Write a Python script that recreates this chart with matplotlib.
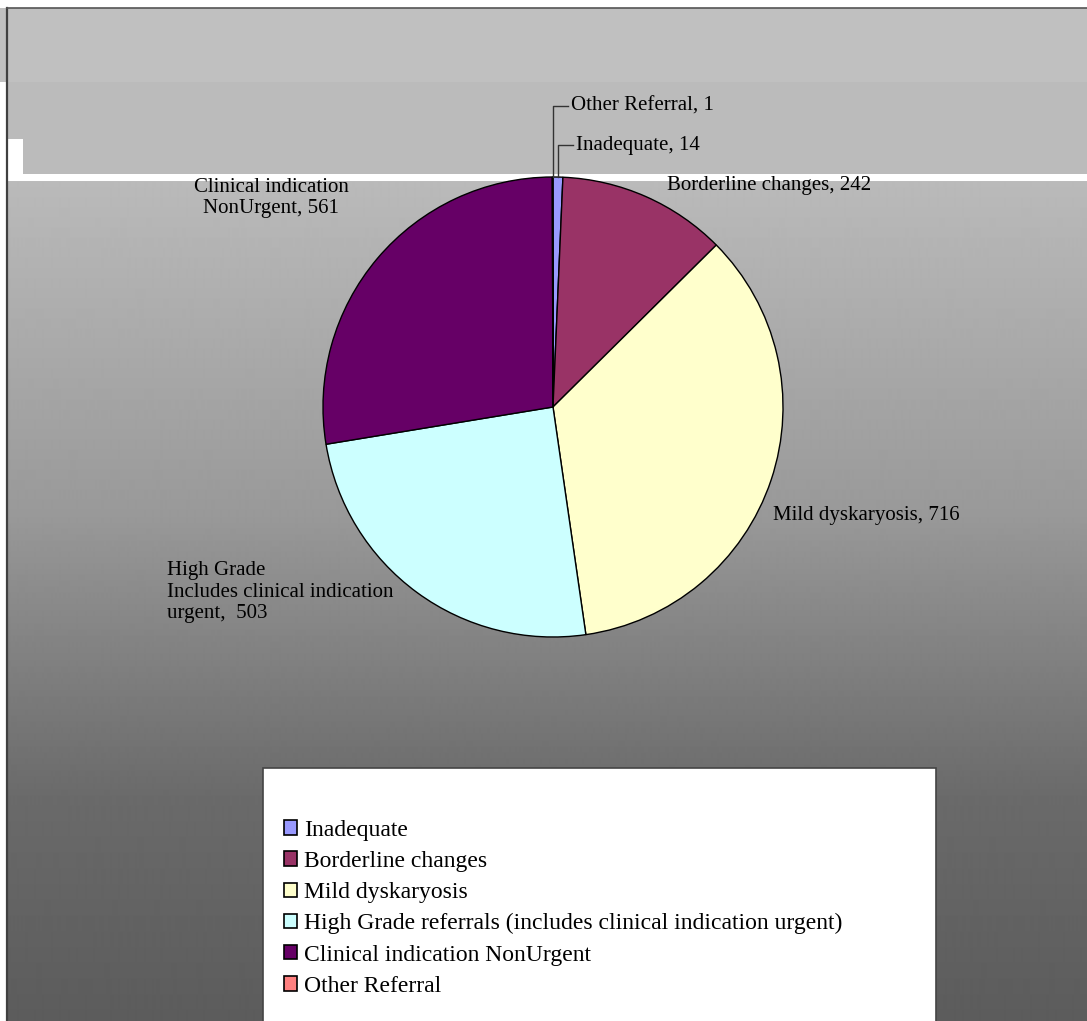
import numpy as np
import matplotlib.pyplot as plt
from matplotlib.patches import Rectangle, Patch

categories = ['Inadequate', 'Borderline changes', 'Mild dyskaryosis',
              'High Grade referrals (includes clinical indication urgent)',
              'Clinical indication NonUrgent', 'Other Referral']
values = [14, 242, 716, 503, 561, 1]
slice_names = ['Inadequate', 'Borderline changes', 'Mild dyskaryosis',
               'High Grade\nIncludes clinical indication\nurgent, ',
               'Clinical indication\nNonUrgent', 'Other Referral']
colors = ['#9999ff', '#993366', '#ffffcc', '#ccffff', '#660066', '#ff8080']

W, H = 1087, 1021
plt.rcParams['font.family'] = ['Liberation Serif', 'DejaVu Serif']
fig = plt.figure(figsize=(W / 100, H / 100), dpi=100)

# background panel drawn in pixel coordinates
bg = fig.add_axes([0, 0, 1, 1])
bg.set_xlim(0, W)
bg.set_ylim(H, 0)
bg.axis('off')

gy = np.arange(181, H + 1)
shade = np.interp(gy, [181, 515, 590, 800, H], [186, 153, 140, 106, 92]) / 255.0
grad = np.repeat(shade[:, None], 2, axis=1)
bg.imshow(grad, cmap='gray', vmin=0, vmax=1, extent=[7, W, H, 181],
          aspect='auto', interpolation='bilinear', zorder=1)
bg.add_patch(Rectangle((0, 8), W, 74, color='#c0c0c0', lw=0, zorder=1))
bg.add_patch(Rectangle((7, 82), W - 7, 100, color='#bbbbbb', lw=0, zorder=1))
bg.add_patch(Rectangle((7, 139), 16, 42, color='white', lw=0, zorder=2))
bg.add_patch(Rectangle((7, 174), W - 7, 7, color='white', lw=0, zorder=2))
bg.plot([7, 7], [8, H], color='#404040', lw=1.6, zorder=3)
bg.plot([7, W], [8.5, 8.5], color='#555555', lw=1.2, zorder=3)

# legend box
bg.add_patch(Rectangle((263, 768), 673, H - 768 + 5, facecolor='white',
                       edgecolor='#444444', lw=1.2, zorder=3))

# pie, centre and radius in pixels
cx, cy, r = 553, 407, 230
ax = fig.add_axes([(cx - r) / W, 1 - (cy + r) / H, 2 * r / W, 2 * r / H])
wedges, _ = ax.pie(values, colors=colors, startangle=90, counterclock=False,
                   radius=1, wedgeprops=dict(edgecolor='black', linewidth=1))
ax.set_xlim(-1, 1)
ax.set_ylim(-1, 1)
ax.set_aspect('equal')


def px(x, y):
    return (x - cx) / r, (cy - y) / r


fs = 15
total = sum(values)
# running angles of each slice (clockwise from top)
ends = 90 - 360 * np.cumsum(values) / total
starts = np.concatenate([[90], ends[:-1]])
mids = np.radians((starts + ends) / 2)

# small slices at the top get leader lines
for i, ty in [(5, 106), (0, 145)]:
    x0, y0 = np.cos(mids[i]), np.sin(mids[i])
    _, yt = px(0, ty)
    xt = x0 + 15 / r
    ax.plot([x0, x0, xt], [y0, yt, yt], color='#333333', lw=1, clip_on=False)
    ax.text(xt + 3 / r, yt, f'{slice_names[i]}, {values[i]}', fontsize=fs,
            va='center', ha='left')

tx, ty = px(667, 185)
ax.text(tx, ty, f'{slice_names[1]}, {values[1]}', fontsize=fs, va='center', ha='left')
tx, ty = px(773, 515)
ax.text(tx, ty, f'{slice_names[2]}, {values[2]}', fontsize=fs, va='center', ha='left')
tx, ty = px(167, 592)
ax.text(tx, ty, f'{slice_names[3]} {values[3]}', fontsize=fs, va='center',
        ha='left', linespacing=1.2)
tx, ty = px(271, 198)
ax.text(tx, ty, f'{slice_names[4]}, {values[4]}', fontsize=fs, va='center',
        ha='center', linespacing=1.2)

handles = [Patch(facecolor=c, edgecolor='black', lw=1.2) for c in colors]
fig.legend(handles, categories, loc='upper left',
           bbox_to_anchor=(272 / W, 1 - 808 / H), frameon=False,
           fontsize=17, handlelength=0.55, handleheight=0.55, handletextpad=0.3,
           labelspacing=0.43, borderpad=0)

fig.savefig('out.png', dpi=100)
